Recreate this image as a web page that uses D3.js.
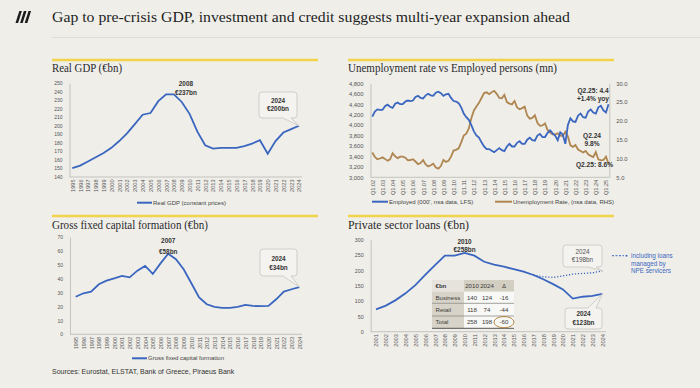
<!DOCTYPE html>
<html lang="en">
<head>
<meta charset="UTF-8">
<script src="https://cdn.jsdelivr.net/npm/d3@7"></script>
<style>
  body { margin: 0; background: #efeee9; }
</style>
</head>
<body>
<script>
// ---------- data ----------
const gdpYears = d3.range(1995, 2025);
const gdpValues = [150, 153, 158, 163, 168, 174, 182, 191, 202, 213,
                   215, 229, 237, 237, 228, 214, 193, 177, 173, 174,
                   174, 174, 176, 179, 183, 167, 182, 192, 196, 200];

const gfcfYears = d3.range(1995, 2025);
const gfcfValues = [27, 29.5, 30.7, 36, 38.6, 40.3, 42, 41, 45.8, 49.2,
                    43.4, 51, 58, 54, 46.8, 36.7, 26.6, 21.6, 19.7, 19,
                    19, 19.7, 21.1, 20.4, 20.2, 20.4, 25.2, 30.7, 32.4, 34];

const quarterTicks = ["Q1.02","Q1.03","Q1.04","Q1.05","Q1.06","Q1.07","Q1.08","Q1.09",
                      "Q1.10","Q1.11","Q1.12","Q1.13","Q1.14","Q1.15","Q1.16","Q1.17",
                      "Q1.18","Q1.19","Q1.20","Q1.21","Q1.22","Q1.23","Q1.24","Q1.25"];
// Q1.02 ... Q2.25, four per year
const employed = [4160, 4260, 4300, 4290,  4290, 4360, 4390, 4350,  4330, 4410, 4430, 4400,
                  4400, 4450, 4470, 4460,  4470, 4540, 4560, 4520,  4510, 4570, 4600, 4570,
                  4560, 4620, 4640, 4610,  4560, 4590, 4600, 4520,  4460, 4450, 4420, 4340,
                  4220, 4150, 4100, 4000,  3880, 3800, 3760, 3670,  3590, 3540, 3540, 3510,
                  3480, 3520, 3560, 3520,  3500, 3590, 3640, 3590,  3590, 3660, 3690, 3640,
                  3640, 3720, 3760, 3710,  3700, 3800, 3830, 3770,  3770, 3850, 3900, 3840,
                  3800, 3710, 3860, 3820,  3640, 4000, 4130, 4070,  4060, 4180, 4220, 4150,
                  4140, 4260, 4300, 4240,  4220, 4340, 4370, 4280,  4240, 4400];
const unemployment = [11.6, 10.4, 9.8, 10.0,  10.3, 9.9, 9.4, 9.8,  11.4, 10.6, 10.1, 10.5,
                      10.5, 10.2, 9.5, 9.6,  9.8, 9.2, 8.5, 8.8,  9.6, 8.4, 7.9, 8.2,
                      8.6, 7.6, 7.3, 8.0,  9.6, 9.1, 9.4, 10.5,  12.1, 12.3, 12.7, 14.3,
                      16.1, 16.6, 18.0, 20.7,  22.8, 23.8, 24.8, 26.1,  27.4, 27.6, 27.1, 27.6,
                      28.0, 27.2, 26.1, 26.0,  26.9, 25.0, 24.6, 24.4,  25.3, 23.6, 23.1, 23.4,
                      23.8, 21.4, 20.6, 20.8,  21.5, 19.5, 18.7, 18.8,  19.3, 17.6, 16.9, 16.4,
                      16.4, 16.7, 16.1, 16.0,  17.1, 15.9, 13.5, 13.1,  13.6, 12.4, 12.0, 11.6,
                      12.0, 11.1, 10.7, 10.4,  11.7, 9.8, 9.5, 9.6,  10.5, 8.6];

const loanYears = d3.range(2001, 2025);
const loanValues = [73, 85, 103, 125, 152, 185, 217, 248, 248, 257, 248, 228,
                    219, 212, 204, 196, 185, 171, 155, 138, 108, 114, 117, 123];
const npeYears = d3.range(2017, 2025);
const npeValues = [185, 179, 177, 182, 188, 190, 192, 198];

const tableHead = ["€bn", "2010", "2024", "Δ"];
const tableRows = ["Business", "Retail", "Total"];
const loans2010 = [140, 118, 258];
const loans2024 = [124, 74, 198];
const loansDelta = [-16, -44, -60];

// ---------- setup ----------
const blue = "#3a66c0", brown = "#b08650", axisGrey = "#c4c3bf", tickCol = "#555";
const serif = "Liberation Serif", sans = "Liberation Sans";
const svg = d3.select("body").append("svg").attr("width", 700).attr("height", 388)
  .attr("font-family", sans);
svg.append("rect").attr("width", 700).attr("height", 388).attr("fill", "#efeee9");

// header
[0, 1, 2].forEach(k => {
  const x0 = 15.5 + k * 4.6;
  svg.append("path")
    .attr("d", `M${x0},23 L${x0 + 2.6},23 L${x0 + 6.4},11 L${x0 + 3.8},11 Z`)
    .attr("fill", "#1c1c1c");
});
svg.append("text").attr("x", 52).attr("y", 22)
  .attr("font-family", serif).attr("font-size", 14).attr("fill", "#1e1e1e")
  .attr("textLength", 518).attr("lengthAdjust", "spacingAndGlyphs")
  .text("Gap to pre-crisis GDP, investment and credit suggests multi-year expansion ahead");
svg.append("line").attr("x1", 52).attr("x2", 700).attr("y1", 37.5).attr("y2", 37.5)
  .attr("stroke", "#dddcd7");

// panel frame bits
[[52, 60], [348, 60], [52, 216], [348, 216]].forEach(([x, y]) => {
  svg.append("line").attr("x1", x).attr("x2", x + 266).attr("y1", y).attr("y2", y)
    .attr("stroke", "#f2d34c").attr("stroke-width", 2.5);
});
function panelTitle(x, y, t, w) {
  svg.append("text").attr("x", x).attr("y", y).attr("font-family", serif)
    .attr("font-size", 11.5).attr("fill", "#2a2a2a")
    .attr("textLength", w).attr("lengthAdjust", "spacingAndGlyphs").text(t);
}
panelTitle(52, 72, "Real GDP (€bn)", 70);
panelTitle(348, 72, "Unemployment rate vs Employed persons (mn)", 209);
panelTitle(52, 229, "Gross fixed capital formation (€bn)", 156);
panelTitle(348, 229, "Private sector loans (€bn)", 121);

// helpers
function yAxis(scale, x, values, fmt, side, fs) {
  const ax = (side === "right" ? d3.axisRight(scale) : d3.axisLeft(scale))
    .tickValues(values).tickSize(0).tickPadding(7).tickFormat(fmt);
  const g = svg.append("g").attr("transform", `translate(${x},0)`).call(ax);
  g.select(".domain").attr("stroke", axisGrey);
  g.selectAll("text").attr("fill", tickCol).attr("font-size", fs)
    .attr("font-family", sans);
  return g;
}
function xAxis(scale, y, values, fmt, range) {
  const g = svg.append("g").attr("transform", `translate(0,${y})`)
    .call(d3.axisBottom(scale).tickValues(values).tickSize(0).tickFormat(fmt));
  g.select(".domain").remove();
  g.append("line").attr("x1", range[0]).attr("x2", range[1]).attr("stroke", axisGrey);
  g.selectAll("text").attr("fill", tickCol).attr("font-size", 5.6)
    .attr("font-family", sans)
    .attr("transform", "rotate(-90)").attr("text-anchor", "end")
    .attr("x", -2.5).attr("y", 0).attr("dy", "0.35em");
  return g;
}
function callout(bx, by, bw, bh, tx, ty, tailTop) {
  const r = 3, a1 = bx + bw - 14, a2 = bx + bw - 6;
  let d;
  if (!tailTop) {
    d = `M${bx + r},${by} H${bx + bw - r} Q${bx + bw},${by} ${bx + bw},${by + r} V${by + bh - r}
         Q${bx + bw},${by + bh} ${bx + bw - r},${by + bh} H${a2} L${tx},${ty} L${a1},${by + bh}
         H${bx + r} Q${bx},${by + bh} ${bx},${by + bh - r} V${by + r} Q${bx},${by} ${bx + r},${by} Z`;
  } else {
    d = `M${bx + r},${by} H${a1} L${tx},${ty} L${a2},${by} H${bx + bw - r} Q${bx + bw},${by} ${bx + bw},${by + r}
         V${by + bh - r} Q${bx + bw},${by + bh} ${bx + bw - r},${by + bh} H${bx + r}
         Q${bx},${by + bh} ${bx},${by + bh - r} V${by + r} Q${bx},${by} ${bx + r},${by} Z`;
  }
  svg.append("path").attr("d", d).attr("fill", "#f4f3f0").attr("stroke", "#c6c5c1").attr("stroke-width", 0.8);
}
function label(x, y, t, opts = {}) {
  return svg.append("text").attr("x", x).attr("y", y)
    .attr("text-anchor", opts.anchor || "middle")
    .attr("font-size", opts.size || 6.4).attr("font-weight", opts.weight || "bold")
    .attr("fill", opts.fill || "#333").text(t);
}
function legendLine(x1, x2, y, color, t, dash) {
  svg.append("line").attr("x1", x1).attr("x2", x2).attr("y1", y).attr("y2", y)
    .attr("stroke", color).attr("stroke-width", 2).attr("stroke-dasharray", dash || null);
  svg.append("text").attr("x", x2 + 1).attr("y", y + 2).attr("font-size", 6)
    .attr("fill", "#444").text(t);
}

// ---------- panel 1: Real GDP ----------
const x1 = d3.scaleLinear().domain([1995, 2024]).range([72.3, 299]);
const y1 = d3.scaleLinear().domain([140, 250]).range([176.7, 83.3]);
yAxis(y1, 69.5, d3.range(140, 251, 10), d3.format("d"), "left", 5);
xAxis(x1, 177, gdpYears, d3.format("d"), [69.5, 302]);
svg.append("path").datum(gdpValues)
  .attr("fill", "none").attr("stroke", blue).attr("stroke-width", 1.8)
  .attr("d", d3.line().x((d, i) => x1(gdpYears[i])).y(d => y1(d)));
label(x1(2008) + 12, 86.3, "2008");
label(x1(2008) + 12, 95.3, "€237bn");
callout(259, 92, 38, 26, x1(2024), y1(200));
label(278, 103, "2024");
label(278, 111.3, "€200bn");
legendLine(137, 152, 202.7, blue, "Real GDP (constant prices)");

// ---------- panel 2: unemployment vs employed ----------
const x2 = d3.scaleLinear().domain([0, employed.length - 1]).range([372.3, 608.5]);
const y2L = d3.scaleLinear().domain([3000, 4800]).range([177.3, 83.3]);
const y2R = d3.scaleLinear().domain([5, 30]).range([177.3, 83.3]);
yAxis(y2L, 370.5, d3.range(3000, 4801, 200), d3.format(","), "left", 5.8);
yAxis(y2R, 609.3, d3.range(5, 31, 5), d3.format(".1f"), "right", 5.8);
xAxis(x2, 177.3, quarterTicks.map((q, i) => i * 4), i => quarterTicks[i / 4], [370.5, 609.3]);
svg.append("path").datum(unemployment)
  .attr("fill", "none").attr("stroke", brown).attr("stroke-width", 1.8)
  .attr("d", d3.line().x((d, i) => x2(i)).y(d => y2R(d)));
svg.append("path").datum(employed)
  .attr("fill", "none").attr("stroke", blue).attr("stroke-width", 1.8)
  .attr("d", d3.line().x((d, i) => x2(i)).y(d => y2L(d)));
label(593, 92.5, "Q2.25: 4.4", { size: 6.6 });
label(593, 101, "+1.4% yoy", { size: 6.6 });
label(592, 137.5, "Q2.24", { size: 6.6 });
label(592, 145.5, "9.8%", { size: 6.6 });
label(594.5, 166.5, "Q2.25: 8.6%", { size: 6.6 });
legendLine(372, 388, 201.7, blue, "Employed (000', nsa data, LFS)");
legendLine(495, 512, 201.7, brown, "Unemployment Rate, (nsa data, RHS)");

// ---------- panel 3: GFCF ----------
const x3 = d3.scaleLinear().domain([1995, 2024]).range([75.7, 299.3]);
const y3 = d3.scaleLinear().domain([0, 70]).range([334.3, 237]);
yAxis(y3, 70, d3.range(0, 71, 10), d3.format("d"), "left", 5);
xAxis(x3, 334.3, gfcfYears, d3.format("d"), [70, 302]);
svg.append("path").datum(gfcfValues)
  .attr("fill", "none").attr("stroke", blue).attr("stroke-width", 1.8)
  .attr("d", d3.line().x((d, i) => x3(gfcfYears[i])).y(d => y3(d)));
label(x3(2007), 243, "2007");
label(x3(2007), 253.5, "€58bn");
callout(260, 249, 37, 27, x3(2024), y3(34));
label(278.5, 261.3, "2024");
label(278.5, 270.3, "€34bn");
legendLine(132, 147, 358.3, blue, "Gross fixed capital formation");

// ---------- panel 4: private sector loans ----------
const x4 = d3.scaleLinear().domain([2001, 2024]).range([376, 602.3]);
const y4 = d3.scaleLinear().domain([0, 300]).range([331.7, 239.7]);
yAxis(y4, 370.7, d3.range(0, 301, 50), d3.format("d"), "left", 5.3);
xAxis(x4, 331.7, loanYears, d3.format("d"), [370.7, 606]);
svg.append("path").datum(npeValues)
  .attr("fill", "none").attr("stroke", blue).attr("stroke-width", 1.3)
  .attr("stroke-dasharray", "1.2,1.8")
  .attr("d", d3.line().x((d, i) => x4(npeYears[i])).y(d => y4(d)));
svg.append("path").datum(loanValues)
  .attr("fill", "none").attr("stroke", blue).attr("stroke-width", 1.8)
  .attr("d", d3.line().x((d, i) => x4(loanYears[i])).y(d => y4(d)));
label(x4(2010), 244, "2010");
label(x4(2010), 251.5, "€258bn");
callout(563, 245, 39, 22, x4(2024), y4(198));
label(582.5, 254, "2024", { weight: "normal", fill: "#555" });
label(582.5, 262.3, "€198bn", { weight: "normal", fill: "#555" });
callout(565, 308, 37, 21, x4(2024), y4(123), true);
label(583.5, 316.3, "2024");
label(583.5, 324.5, "€123bn");

// NPE legend
svg.append("line").attr("x1", 612).attr("x2", 624).attr("y1", 255.7).attr("y2", 255.7)
  .attr("stroke", blue).attr("stroke-width", 1).attr("stroke-dasharray", "2,1.5");
svg.append("circle").attr("cx", 626.5).attr("cy", 255.7).attr("r", 1).attr("fill", blue);
["including loans", "managed by", "NPE servicers"].forEach((t, i) => {
  label(631, 257.8 + i * 7.7, t, { anchor: "start", weight: "normal", fill: blue, size: 6.3 });
});

// table
const colX = [432, 464, 480, 494, 514];
const rowY = [280, 291.7, 303.3, 316, 328.3];
const tg = svg.append("g");
const cells = [tableHead].concat(tableRows.map((r, i) => [r, loans2010[i], loans2024[i], loansDelta[i]]));
cells.forEach((row, ri) => {
  row.forEach((v, ci) => {
    let fill = "#f8f8f6";
    if (ri === 0) fill = ci === 0 ? "#e6e3dc" : "#d3cec2";
    else if (ci === 0) fill = "#d8d3c8";
    tg.append("rect").attr("x", colX[ci]).attr("y", rowY[ri])
      .attr("width", colX[ci + 1] - colX[ci]).attr("height", rowY[ri + 1] - rowY[ri]).attr("fill", fill);
    tg.append("text")
      .attr("x", ci === 0 ? colX[0] + 3.5 : (colX[ci] + colX[ci + 1]) / 2)
      .attr("y", (rowY[ri] + rowY[ri + 1]) / 2 + 2.2)
      .attr("text-anchor", ci === 0 ? "start" : "middle")
      .attr("font-size", 6.1).attr("font-weight", ri === 0 && ci === 0 ? "bold" : "normal")
      .attr("fill", "#3a3a3a").text(v);
  });
});
[rowY[2], rowY[3]].forEach(y => {
  tg.append("line").attr("x1", colX[0]).attr("x2", colX[4]).attr("y1", y).attr("y2", y)
    .attr("stroke", "#8a8a86").attr("stroke-width", 0.8);
});
tg.append("line").attr("x1", colX[0]).attr("x2", colX[4]).attr("y1", rowY[4]).attr("y2", rowY[4])
  .attr("stroke", "#555").attr("stroke-width", 1);
tg.append("ellipse").attr("cx", (colX[3] + colX[4]) / 2).attr("cy", (rowY[3] + rowY[4]) / 2)
  .attr("rx", 10).attr("ry", 5.6).attr("fill", "none").attr("stroke", "#b07d3a").attr("stroke-width", 0.9);

// footer
svg.append("text").attr("x", 52).attr("y", 374).attr("font-size", 7).attr("fill", "#333")
  .text("Sources: Eurostat, ELSTAT, Bank of Greece, Piraeus Bank");
</script>
</body>
</html>
